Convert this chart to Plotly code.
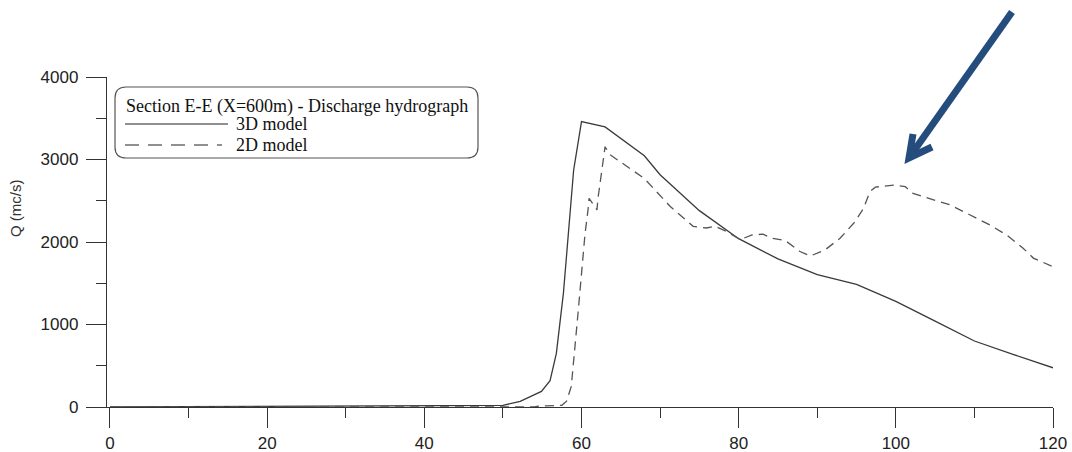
import plotly.graph_objects as go

# ---- data ----
time_3d = [0, 5, 10, 20, 30, 33, 40, 50, 52.2, 54.9, 56.0, 56.8, 57.7, 59.0, 60.0,
           63.0, 68.0, 70.0, 75.0, 80.0, 85.0, 90.0, 95.0, 100.0, 105.0, 110.0, 115.0, 120.0]
q_3d = [0, 2, 10, 12, 12, 20, 20, 20, 68, 189, 320, 650, 1380, 2870, 3460,
        3395, 3045, 2815, 2380, 2040, 1795, 1605, 1485, 1280, 1040, 800, 635, 475]

time_2d = [0, 54.0, 54.5, 57.5, 58.1, 58.7, 59.6, 60.45, 60.83, 60.96, 61.97, 62.1, 63.0,
           63.6, 68.0, 71.3, 74.2, 75.9, 77.0, 78.5, 80.2, 81.7, 83.1, 84.2, 85.9, 87.8,
           89.1, 91.0, 92.9, 94.8, 95.9, 96.7, 97.4, 99.7, 101.2, 102.2, 104.8, 106.9,
           109.4, 112.0, 114.1, 116.2, 117.5, 120.0]
q_2d = [0, 0, 10, 20, 70, 250, 1180, 2100, 2390, 2530, 2390, 2530, 3155,
        3060, 2770, 2430, 2190, 2170, 2190, 2125, 2030, 2085, 2095, 2045, 2020, 1885,
        1830, 1905, 2045, 2245, 2410, 2610, 2665, 2690, 2670, 2590, 2510, 2450,
        2330, 2205, 2085, 1925, 1805, 1700]

x_ticks = [0, 20, 40, 60, 80, 100, 120]
y_ticks = [0, 1000, 2000, 3000, 4000]

legend_title = "Section E-E (X=600m) - Discharge hydrograph"
name_3d = "3D model"
name_2d = "2D model"
y_title = "Q (mc/s)"

# ---- layout geometry (pixels) ----
W, H = 1072, 452
L, R, T, B = 107, 19, 77, 45
PW, PH = W - L - R, H - T - B


def xp(px):
    return (px - L) / PW


def yp(py):
    return (H - B - py) / PH


fig = go.Figure()
fig.add_trace(go.Scatter(x=time_3d, y=q_3d, mode="lines", name=name_3d,
                         line=dict(color="#3a3a3a", width=1.3), showlegend=False))
fig.add_trace(go.Scatter(x=time_2d, y=q_2d, mode="lines", name=name_2d,
                         line=dict(color="#555555", width=1.3, dash="9px,6px"),
                         showlegend=False))

shapes = []
# rounded legend box
x0, x1, y0, y1, r = 115, 478, 87, 158, 11
path = (f"M {xp(x0 + r)} {yp(y0)} L {xp(x1 - r)} {yp(y0)} "
        f"Q {xp(x1)} {yp(y0)} {xp(x1)} {yp(y0 + r)} L {xp(x1)} {yp(y1 - r)} "
        f"Q {xp(x1)} {yp(y1)} {xp(x1 - r)} {yp(y1)} L {xp(x0 + r)} {yp(y1)} "
        f"Q {xp(x0)} {yp(y1)} {xp(x0)} {yp(y1 - r)} L {xp(x0)} {yp(y0 + r)} "
        f"Q {xp(x0)} {yp(y0)} {xp(x0 + r)} {yp(y0)} Z")
shapes.append(dict(type="path", xref="paper", yref="paper", path=path,
                   line=dict(color="#555555", width=1.2), fillcolor="rgba(0,0,0,0)"))
# legend sample lines
shapes.append(dict(type="line", xref="paper", yref="paper",
                   x0=xp(125), x1=xp(228), y0=yp(124), y1=yp(124),
                   line=dict(color="#222222", width=1.2)))
shapes.append(dict(type="line", xref="paper", yref="paper",
                   x0=xp(125), x1=xp(222), y0=yp(145), y1=yp(145),
                   line=dict(color="#222222", width=1.2, dash="14px,9px")))
# blue arrow
ac = "#244C7D"
shapes.append(dict(type="line", xref="paper", yref="paper",
                   x0=xp(1012), y0=yp(12), x1=xp(911), y1=yp(155),
                   line=dict(color=ac, width=7)))
shapes.append(dict(type="path", xref="paper", yref="paper",
                   path=f"M {xp(913)} {yp(134)} L {xp(909)} {yp(158)} L {xp(932)} {yp(147)}",
                   line=dict(color=ac, width=7), fillcolor="rgba(0,0,0,0)"))

serif = "Liberation Serif"
annotations = [
    dict(text=legend_title, xref="paper", yref="paper", x=xp(297), y=yp(106),
         xanchor="center", yanchor="middle", showarrow=False,
         font=dict(family=serif, size=18, color="#111111")),
    dict(text=name_3d, xref="paper", yref="paper", x=xp(234), y=yp(124),
         xanchor="left", yanchor="middle", showarrow=False,
         font=dict(family=serif, size=18, color="#111111")),
    dict(text=name_2d, xref="paper", yref="paper", x=xp(234), y=yp(145),
         xanchor="left", yanchor="middle", showarrow=False,
         font=dict(family=serif, size=18, color="#111111")),
    dict(text=y_title, xref="paper", yref="paper", x=xp(15), y=yp(208),
         xanchor="center", yanchor="middle", showarrow=False, textangle=-90,
         font=dict(family="Liberation Sans", size=15, color="#333333")),
]

axis_font = dict(family="Liberation Sans", size=17, color="#222222")
fig.update_layout(
    width=W, height=H,
    margin=dict(l=L, r=R, t=T, b=B, autoexpand=False),
    paper_bgcolor="white", plot_bgcolor="white",
    shapes=shapes, annotations=annotations,
    xaxis=dict(range=[-0.38, 120], tickvals=x_ticks, showgrid=False, zeroline=False,
               automargin=False,
               showline=True, linecolor="#333333", linewidth=1.3,
               ticks="outside", ticklen=20, tickwidth=1.3, tickcolor="#333333",
               tickfont=axis_font,
               minor=dict(ticks="outside", ticklen=10, tickwidth=1.3, tickcolor="#333333",
                          dtick=10, tick0=0, showgrid=False)),
    yaxis=dict(range=[0, 4000], tickvals=y_ticks, showgrid=False, zeroline=False,
               automargin=False,
               showline=True, linecolor="#333333", linewidth=1.3,
               ticks="outside", ticklen=20, tickwidth=1.3, tickcolor="#333333",
               tickfont=axis_font, ticklabelstandoff=4,
               minor=dict(ticks="outside", ticklen=10, tickwidth=1.3, tickcolor="#333333",
                          dtick=500, tick0=0, showgrid=False)),
)

fig.write_html("out.html", config={"displayModeBar": False},
               post_script="document.body.style.margin='0';document.body.style.overflow='hidden';")
